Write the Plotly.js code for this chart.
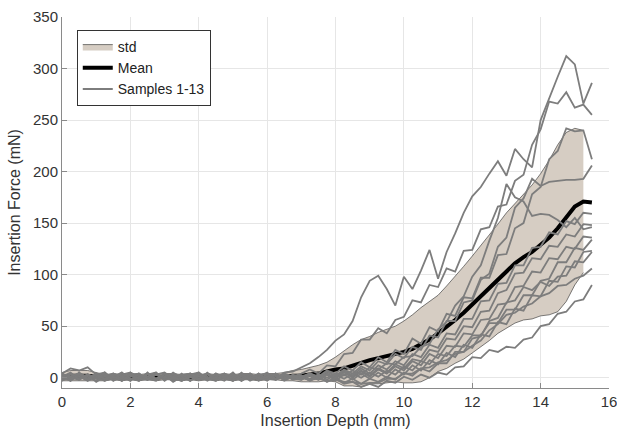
<!DOCTYPE html>
<html>
<head>
<meta charset="utf-8">
<script src="https://cdn.plot.ly/plotly-3.0.1.min.js"></script>
<style>html,body{margin:0;padding:0;background:#fff;}#chart{width:617px;height:429px;}</style>
</head>
<body>
<div id="chart"></div>
<script>
// Insertion depth grid (mm)
const depth = [0,0.25,0.5,0.75,1,1.25,1.5,1.75,2,2.25,2.5,2.75,3,3.25,3.5,3.75,4,4.25,4.5,4.75,5,5.25,5.5,5.75,6,6.25,6.5,6.75,
  7,7.25,7.5,7.75,8,8.25,8.5,8.75,9,9.25,9.5,9.75,10,10.25,10.5,10.75,11,11.25,11.5,11.75,12,12.25,12.5,12.75,13,13.25,13.5,13.75,14,14.25,14.5,14.75,15,15.25,15.5];

// Mean insertion force (mN)
const meanForce = [1,2,2,2,1,0,1,0,1,0,1,0,1,1,0,1,0,1,0,1,0,1,1,0,1,1,1,2,
  2,3,4,6,8,9,12,14,17,19,21,23,25,28,32,37,43,49,56,63,71,79,87,96,104,111,117,122,129,136,145,156,166,171,170];

// Standard deviation (mN), defined up to 15.25 mm
const stdForce = [4,5,5,5,4,3,3,3,3,3,3,3,3,3,3,3,3,3,3,3,3,3,3,3,3,3,4,5,
  6,7,8,9,12,17,20,23,23,25,26,27,30,33,36,37,37,40,42,45,47,49,51,53,56,58,61,65,69,75,81,82,76,69];

// Samples 1-13 (mN)
const sample1 = [2,-3,5,-1,4,-2,1,5,-3,3,-1,4,-2,5,0,-3,3,-1,4,1,-2,5,-1,3,4,-1,5,6,
  10,14,20,27,36,42,55,78,94,99,86,70,98,86,104,124,96,122,140,160,176,185,198,210,196,222,212,204,250,272,292,312,304,266,286];
const sample2 = [-1,4,-2,3,-4,1,4,-1,3,-3,5,-2,1,-1,4,-3,3,0,-2,4,-1,3,-3,1,5,-2,4,1,
  4,8,4,12,11,23,24,37,37,48,43,56,59,75,73,90,88,106,103,123,124,144,146,166,168,191,197,226,241,268,266,277,262,265,255];
const sample3 = [4,-2,1,-3,3,5,-1,0,-3,4,-2,3,5,-1,-3,1,4,-2,3,-1,5,-3,1,3,-2,4,-1,3,
  1,4,1,7,4,11,7,15,10,20,15,27,23,38,33,49,45,62,60,78,77,97,97,119,120,145,150,178,185,212,220,242,239,240,212];
const sample4 = [4,9,7,10,3,-1,2,-3,1,4,-2,-1,3,-4,1,4,-1,3,-2,0,4,-3,3,-1,1,4,-2,2,
  0,4,0,6,2,8,4,11,7,16,13,23,19,30,27,41,39,55,55,73,75,95,101,127,136,165,174,193,186,190,191,192,192,193,206];
const sample5 = [-2,1,4,-1,3,-3,0,3,5,-2,1,-1,4,-3,3,1,-2,5,-1,3,-3,1,4,-2,0,3,-1,1,
  2,-1,3,0,4,2,7,3,10,8,14,13,20,21,30,33,47,54,70,79,98,109,133,155,188,175,171,157,159,158,153,146,155,144,146];
const sample6 = [1,-3,3,-1,4,1,-2,4,-1,-3,3,5,-2,1,-1,4,-2,1,-3,3,1,-1,4,-2,3,-1,1,2,
  -1,4,0,6,1,7,2,9,4,12,8,16,12,23,20,32,29,43,42,57,57,74,75,91,92,109,109,126,127,141,139,152,149,160,159];
const sample7 = [4,0,-2,3,-1,5,-3,1,3,-2,4,-1,0,3,-3,1,5,-2,3,-1,-3,4,0,-1,3,-2,1,-1,
  -2,3,-1,4,0,6,1,7,2,9,5,13,9,18,16,27,25,38,37,50,49,64,65,82,85,101,102,116,115,128,127,139,137,149,148];
const sample8 = [-3,3,1,-2,4,-1,3,-3,5,1,-2,3,-1,4,-2,0,3,-3,1,4,-1,3,-2,1,-3,3,0,1,
  1,3,-2,3,-1,5,0,6,1,8,4,11,7,16,12,23,19,31,30,43,42,56,57,71,72,88,89,103,102,116,115,127,125,137,136];
const sample9 = [3,-2,4,1,-3,3,0,-1,4,-2,1,5,-3,3,-1,1,-2,4,0,-3,3,1,-2,4,-1,-2,3,0,
  2,-2,3,-2,3,-1,4,0,5,1,7,3,11,7,16,13,23,21,31,30,41,41,53,53,66,66,80,80,94,96,112,112,126,124,134];
const sample10 = [-2,4,-1,3,0,-3,4,1,-2,3,-1,-3,4,1,-2,3,5,-1,-3,3,0,4,-2,1,-1,3,-3,1,
  -2,2,-2,3,-3,3,-2,4,-1,5,0,8,3,12,7,17,13,24,20,32,29,42,40,54,52,67,65,80,79,94,93,108,107,122,123];
const sample11 = [4,-1,3,-3,1,3,-2,5,-1,0,4,-2,1,-3,3,4,-1,-2,3,1,-3,3,-1,4,-2,1,3,-1,
  2,-3,1,-4,0,-5,-1,-6,-1,-4,1,-2,5,2,9,6,14,14,25,25,38,40,55,58,73,75,88,85,93,89,98,99,113,112,122];
const sample12 = [1,5,-2,3,-1,4,-3,1,3,-1,-2,4,0,-1,3,-3,1,4,-2,0,3,-1,4,-3,1,-1,3,-2,
  0,-2,-1,-3,-2,-4,-4,-6,-5,-5,-1,-1,4,4,9,10,15,17,23,25,31,36,46,52,61,63,69,72,79,82,89,90,96,99,106];
const sample13 = [-3,1,4,-2,3,-1,1,-3,3,4,-1,-2,3,0,-3,3,1,-2,4,-1,1,-3,3,0,-2,4,-1,0,
  1,-3,1,-4,-1,-6,-4,-9,-6,-9,-3,-5,1,-2,3,0,5,3,10,11,20,19,27,25,30,29,37,39,50,52,62,64,74,76,90];

const samples = [sample1,sample2,sample3,sample4,sample5,sample6,sample7,sample8,sample9,sample10,sample11,sample12,sample13];

// Labels
const legendNames = ['std', 'Mean', 'Samples 1-13'];
const xTitle = 'Insertion Depth (mm)';
const yTitle = 'Insertion Force (mN)';
const xTicks = [0,2,4,6,8,10,12,14,16];
const yTicks = [0,50,100,150,200,250,300,350];

const bandX = depth.slice(0, stdForce.length);
const bandLower = stdForce.map((s, i) => meanForce[i] - s);
const bandUpper = stdForce.map((s, i) => meanForce[i] + s);

const FONT = 'Liberation Sans, Arial, Helvetica, sans-serif';
const traces = [];
traces.push({x: bandX, y: bandLower, type: 'scatter', mode: 'lines',
  line: {color: 'rgba(40,40,40,0.85)', width: 0.7}, showlegend: false, hoverinfo: 'skip'});
traces.push({x: bandX, y: bandUpper, type: 'scatter', mode: 'lines', fill: 'tonexty',
  fillcolor: 'rgb(214,205,195)', line: {color: 'rgba(40,40,40,0.85)', width: 0.7}, name: legendNames[0]});
traces.push({x: depth, y: meanForce, type: 'scatter', mode: 'lines',
  line: {color: '#000000', width: 4}, name: legendNames[1]});
samples.forEach((s, k) => {
  traces.push({x: depth, y: s, type: 'scatter', mode: 'lines',
    line: {color: 'rgb(125,125,125)', width: 1.8}, name: legendNames[2],
    legendgroup: 'samples', showlegend: k === 0});
});

const layout = {
  width: 617, height: 429,
  margin: {l: 62, r: 8, t: 17, b: 41, pad: 0},
  paper_bgcolor: '#ffffff', plot_bgcolor: '#ffffff',
  font: {family: FONT, size: 15, color: '#333333'},
  showlegend: true,
  legend: {x: 0.027, y: 0.965, xanchor: 'left', yanchor: 'top',
    bgcolor: '#ffffff', bordercolor: '#333333', borderwidth: 1,
    font: {family: FONT, size: 14, color: '#222222'}, traceorder: 'normal',
    tracegroupgap: 0, itemwidth: 30},
  xaxis: {range: [0, 16], tickvals: xTicks, ticktext: xTicks.map(String),
    showgrid: true, gridcolor: '#e6e6e6', gridwidth: 1,
    zeroline: false, showline: true, linecolor: '#8a8a8a', linewidth: 1,
    ticks: 'inside', ticklen: 5, tickcolor: '#8a8a8a', ticklabeloverflow: 'allow',
    tickfont: {family: FONT, size: 15, color: '#333333'},
    title: {text: xTitle, font: {family: FONT, size: 16, color: '#333333'}, standoff: 9}},
  yaxis: {range: [-10, 350], tickvals: yTicks, ticktext: yTicks.map(String),
    showgrid: true, gridcolor: '#e6e6e6', gridwidth: 1,
    zeroline: false, showline: true, linecolor: '#8a8a8a', linewidth: 1,
    ticks: 'inside', ticklen: 5, tickcolor: '#8a8a8a', ticklabeloverflow: 'allow',
    tickfont: {family: FONT, size: 15, color: '#333333'},
    title: {text: yTitle, font: {family: FONT, size: 16, color: '#333333'}, standoff: 8}},
  hovermode: false
};

Plotly.newPlot('chart', traces, layout, {staticPlot: true, displayModeBar: false});
</script>
</body>
</html>
